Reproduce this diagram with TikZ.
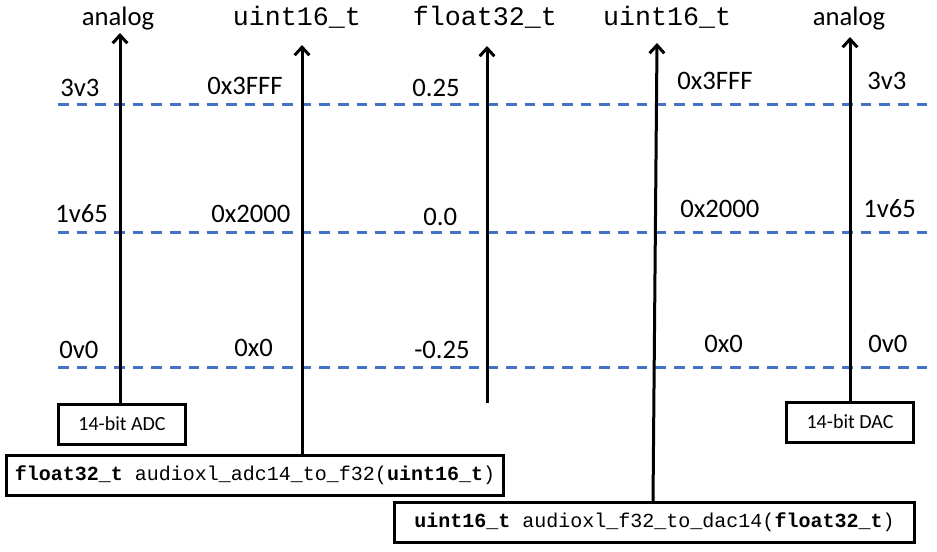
\documentclass[tikz,border=0pt]{standalone}
\usepackage{fontspec}
\setmainfont{Carlito}
\setmonofont{Liberation Mono}
\usetikzlibrary{arrows.meta}
\definecolor{levelblue}{HTML}{4472C4}
\tikzset{
  axis/.style={line width=2.25pt, -{Straight Barb[length=6pt,width=11pt]}},
  level/.style={line width=2.25pt, levelblue, dash pattern=on 8pt off 6pt},
  head/.style={font=\fontsize{20}{24}\selectfont, anchor=base, inner sep=0pt},
  val/.style={font=\fontsize{20}{24}\selectfont, anchor=base west, inner sep=0pt},
  chip/.style={thick, shape=rectangle, draw=black, line width=2.25pt, minimum width=95pt, minimum height=30pt, inner sep=0pt, font=\fontsize{15}{18}\selectfont},
  func/.style={thick, shape=rectangle, draw=black, line width=2.25pt, minimum height=30pt, inner sep=0pt, font=\ttfamily\fontsize{15}{18}\selectfont}
}
\begin{document}
\begin{tikzpicture}[x=0.75pt, y=-0.75pt]
\useasboundingbox (0,0) rectangle (937,552);
% voltage / code levels
\foreach \ly in {105,232,367}
  \draw[level] (58,\ly) -- (927,\ly);
% column titles
\node[head] (h0) at (118,26) {analog};
\node[head] (h1) at (297,26) {\ttfamily uint16\_t};
\node[head] (h2) at (485,26) {\ttfamily float32\_t};
\node[head] (h3) at (667,26) {\ttfamily uint16\_t};
\node[head] (h4) at (849,26) {analog};
% level values
\node[val] (a0) at (60,97)   {3v3};
\node[val] (a1) at (55,223)  {1v65};
\node[val] (a2) at (59,358)  {0v0};
\node[val] (b0) at (207,95)  {0x3FFF};
\node[val] (b1) at (211,222) {0x2000};
\node[val] (b2) at (234,356) {0x0};
\node[val] (c0) at (412,97)  {0.25};
\node[val] (c1) at (423,225) {0.0};
\node[val] (c2) at (414,358) {-0.25};
\node[val] (d0) at (677,90)  {0x3FFF};
\node[val] (d1) at (680,217) {0x2000};
\node[val] (d2) at (704,352) {0x0};
\node[val] (e0) at (867,90)  {3v3};
\node[val] (e1) at (863,217) {1v65};
\node[val] (e2) at (868,352) {0v0};
% converters
\node[chip] (adc) at (122,424) {14-bit ADC};
\node[chip] (dac) at (850,422) {14-bit DAC};
\node[func, minimum width=373pt] (a2f) at (255,475) {\textbf{float32\_t} audioxl\_adc14\_to\_f32(\textbf{uint16\_t})};
\node[func, minimum width=390pt] (f2d) at (654.5,522) {\textbf{uint16\_t} audioxl\_f32\_to\_dac14(\textbf{float32\_t})};
% axes
\coordinate (t0) at (120,33);
\coordinate (t1) at (302,45);
\coordinate (t2) at (487,46);
\coordinate (t3) at (657,43);
\coordinate (t4) at (850,37);
\coordinate (f0) at (487,403);
\draw[axis] (adc.north -| t0) -- (t0);
\draw[axis] (a2f.north -| t1) -- (t1);
\draw[axis] (f0) -- (t2);
\draw[axis] (653,502) coordinate (g0) -- (t3);
\draw[axis] (dac.north -| t4) -- (t4);
\end{tikzpicture}
\end{document}
